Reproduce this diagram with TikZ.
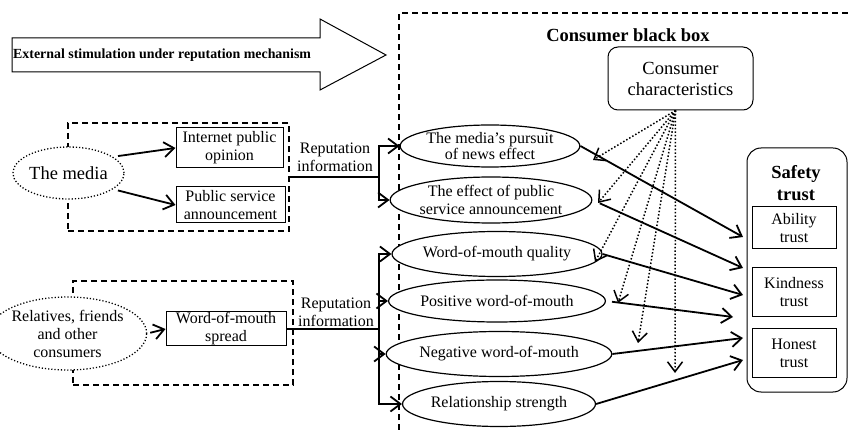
\documentclass[tikz,border=0pt]{standalone}
\usepackage{fontspec}
\setmainfont{Liberation Serif}
\usetikzlibrary{arrows.meta}
\usetikzlibrary{shapes.geometric}

\begin{document}
\begin{tikzpicture}[x=1pt,y=-1pt,>={Straight Barb[length=10pt,width=15pt]},
		font=\fontsize{16}{18}\selectfont]
		\tikzstyle{every node}=[align=center,inner sep=0pt]
		\tikzstyle{box}=[draw,line width=1pt,fill=white]
		\tikzstyle{oval}=[draw,ellipse,line width=1.2pt,fill=white]
		\tikzstyle{source}=[oval,dotted,line width=1.3pt]
		\tikzstyle{group}=[draw,line width=1.3pt,dash pattern=on 6pt off 4pt]
		\tikzstyle{flow}=[->,line width=1.8pt]
		\tikzstyle{link}=[line width=1.5pt]
		\tikzstyle{effect}=[->,dotted,line width=1.5pt]
		\tikzstyle{big}=[font=\fontsize{18.5}{21}\selectfont]
		\tikzstyle{bigbold}=[font=\fontsize{18.5}{22}\selectfont\bfseries]
		
		\useasboundingbox (0,0) rectangle (849,430);
		
		% external stimulation
		\draw[line width=1pt] (12,38) -- (320,38) -- (320,19) -- (386,55)
			-- (320,90) -- (320,72) -- (12,72) -- cycle;
		\node[anchor=west,font=\fontsize{13.9}{15}\selectfont\bfseries] (stim) at (13,55)
			{External stimulation under reputation mechanism};
		
		% consumer black box
		\draw[group] (399,430) -- (399,13) -- (849,13);
		\node[bigbold] (blackbox) at (628,35) {Consumer black box};
		\node[box,big,rounded corners=10pt,minimum width=145pt,minimum height=63pt]
			(traits) at (680.5,78.5) {Consumer\\characteristics};
		
		% the media
		\node[group,minimum width=221pt,minimum height=108pt] (mediagrp) at (178.5,177) {};
		\node[source,big,minimum width=103pt,minimum height=52pt] (media) at (68.5,173) {The media};
		\node[box,minimum width=107pt,minimum height=40pt] (opinion) at (229.5,148) {Internet public\\opinion};
		\node[box,minimum width=109pt,minimum height=36pt] (psa) at (230.5,205) {Public service\\announcement};
		\node (rep1) at (335,157) {Reputation\\information};
		\coordinate (split1) at (379,177);
		
		% relatives and friends
		\node[group,minimum width=220pt,minimum height=104pt] (wordgrp) at (183,333) {};
		\node[source,minimum width=109pt,minimum height=73pt] (peers) at (67.5,333.5)
			{Relatives, friends\\and other\\consumers};
		\node[box,minimum width=120pt,minimum height=34pt] (spread) at (226,329) {Word-of-mouth\\spread};
		\node (rep2) at (336,312) {Reputation\\information};
		\coordinate (split2) at (379,329);
		
		% perceived effects
		\node[oval,minimum width=155pt,minimum height=42pt] (pursuit) at (490,146)
			{The media's pursuit\\[-2pt]of news effect};
		\node[oval,minimum width=162pt,minimum height=46pt] (psaeffect) at (491,200)
			{The effect of public\\service announcement};
		\node[oval,minimum width=165pt,minimum height=45pt] (quality) at (497,254) {Word-of-mouth quality};
		\node[oval,minimum width=169pt,minimum height=42pt] (positive) at (497,301) {Positive word-of-mouth};
		\node[oval,minimum width=168pt,minimum height=45pt] (negative) at (499,354) {Negative word-of-mouth};
		\node[oval,minimum width=162pt,minimum height=45pt] (strength) at (499,404) {Relationship strength};
		
		% safety trust
		\node[box,rounded corners=14pt,minimum width=100pt,minimum height=244pt] (safety) at (797,270) {};
		\node[bigbold] (safetylbl) at (796,183) {Safety\\trust};
		\node[box,minimum width=84pt,minimum height=42pt] (ability) at (794,228) {Ability\\trust};
		\node[box,minimum width=84pt,minimum height=49pt] (kindness) at (794,292.5) {Kindness\\trust};
		\node[box,minimum width=84pt,minimum height=48pt] (honest) at (794,353) {Honest\\trust};
		
		\coordinate (in1) at (743,237);
		\coordinate (in2) at (743,268);
		\coordinate (in3) at (743,295);
		\coordinate (in4) at (733,317);
		\coordinate (in5) at (743,338);
		\coordinate (in6) at (743,360);
		
		\coordinate (fan) at ([xshift=-5pt]traits.south);
		\coordinate (m1) at (593,160);
		\coordinate (m2) at (598,203);
		\coordinate (m3) at (595,262);
		\coordinate (m4) at (618,303);
		\coordinate (m5) at (638,343);
		\coordinate (m6) at (675,373);
		
		\draw[flow,shorten <=5pt] (media.20) -- (opinion.west);
		\draw[flow,shorten <=5pt] (media.-20) -- (psa.west);
		\draw[link] (mediagrp.east) -- (split1);
		\draw[flow] (split1) |- (pursuit.west);
		\draw[flow] (split1) |- (psaeffect.west);
		
		\draw[flow,shorten <=3pt] (peers.east) -- (spread.west);
		\draw[link] (spread.east) -- (split2);
		\draw[flow] (split2) |- (quality.west);
		\draw[flow] (split2) |- (positive.west);
		\draw[flow] (split2) |- (negative.west);
		\draw[flow] (split2) |- (strength.west);
		
		\draw[flow] (pursuit.east) -- (in1);
		\draw[flow,shorten <=8pt] (psaeffect.east) -- (in2);
		\draw[flow] (quality.east) -- (in3);
		\draw[flow,shorten <=6pt] (positive.east) -- (in4);
		\draw[flow] (negative.east) -- (in5);
		\draw[flow] (strength.east) -- (in6);
		
		\foreach \m in {m1,m2,m3,m4,m5,m6}
			\draw[effect] (fan) -- (\m);
	\end{tikzpicture}
\end{document}
